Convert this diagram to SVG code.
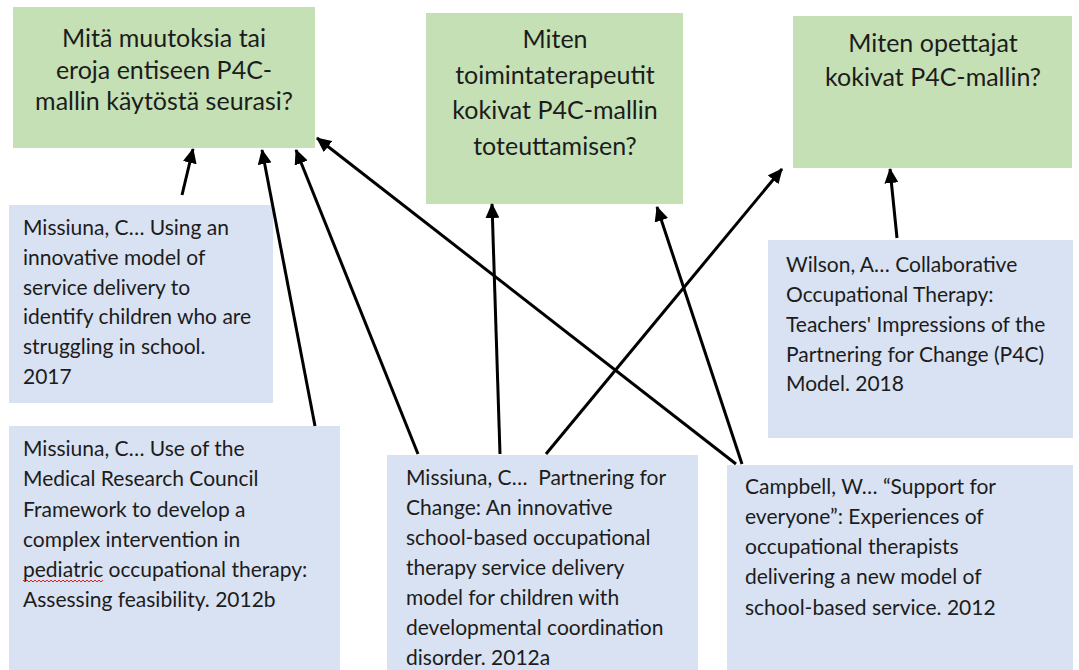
<svg xmlns="http://www.w3.org/2000/svg" width="1079" height="670" viewBox="0 0 1079 670">
  <defs>
    <style>
      .q { fill: #c5e0b4; }
      .src { fill: #d9e2f2; }
      .qt { font-family: Lato, "Open Sans", sans-serif; font-size: 25px; fill: #1c1c1c; text-anchor: middle; }
      .st { font-family: Lato, "Open Sans", sans-serif; font-size: 21px; fill: #1c1c1c; white-space: pre; }
      .arrow { stroke: #000; stroke-width: 3; fill: none; marker-end: url(#head); }
    </style>
    <marker id="head" markerUnits="userSpaceOnUse" markerWidth="16" markerHeight="14" refX="14" refY="7" orient="auto">
      <path d="M0,0 L15,7 L0,14 Z" fill="#000"/>
    </marker>
  </defs>

  <rect width="1079" height="670" fill="#fff"/>

  <!-- question boxes -->
  <g id="q-muutokset">
    <rect class="q" x="13" y="7" width="302" height="141"/>
    <text class="qt" x="164" y="47">Mitä muutoksia tai</text>
    <text class="qt" x="164" y="79">eroja entiseen P4C-</text>
    <text class="qt" x="164" y="110">mallin käytöstä seurasi?</text>
  </g>
  <g id="q-toimintaterapeutit">
    <rect class="q" x="426" y="13" width="257" height="191"/>
    <text class="qt" x="555" y="48">Miten</text>
    <text class="qt" x="555" y="84">toimintaterapeutit</text>
    <text class="qt" x="555" y="119">kokivat P4C-mallin</text>
    <text class="qt" x="555" y="155">toteuttamisen?</text>
  </g>
  <g id="q-opettajat">
    <rect class="q" x="793" y="16" width="279" height="152"/>
    <text class="qt" x="933" y="52">Miten opettajat</text>
    <text class="qt" x="933" y="86">kokivat P4C-mallin?</text>
  </g>

  <!-- source boxes -->
  <g id="s-missiuna-2017">
    <rect class="src" x="9" y="205" width="264" height="198"/>
    <text class="st" x="23" y="235">Missiuna, C… Using an</text>
    <text class="st" x="23" y="265">innovative model of</text>
    <text class="st" x="23" y="295">service delivery to</text>
    <text class="st" x="23" y="324">identify children who are</text>
    <text class="st" x="23" y="354">struggling in school.</text>
    <text class="st" x="23" y="384">2017</text>
  </g>
  <g id="s-missiuna-2012b">
    <rect class="src" x="9" y="426" width="331" height="250"/>
    <text class="st" x="23" y="456">Missiuna, C… Use of the</text>
    <text class="st" x="23" y="486">Medical Research Council</text>
    <text class="st" x="23" y="517">Framework to develop a</text>
    <text class="st" x="23" y="547">complex intervention in</text>
    <text class="st" x="23" y="577">pediatric occupational therapy:</text>
    <text class="st" x="23" y="607">Assessing feasibility. 2012b</text>
    <!-- spell-check squiggle under "pediatric" -->
    <path d="M23,580 l2,2 l2,-2 l2,2 l2,-2 l2,2 l2,-2 l2,2 l2,-2 l2,2 l2,-2 l2,2 l2,-2 l2,2 l2,-2 l2,2 l2,-2 l2,2 l2,-2 l2,2 l2,-2 l2,2 l2,-2 l2,2 l2,-2 l2,2 l2,-2 l2,2 l2,-2 l2,2 l2,-2 l2,2 l2,-2 l2,2 l2,-2 l2,2 l2,-2 l2,2 l2,-2 l2,2 l2,-2" fill="none" stroke="#e02020" stroke-width="1"/>
  </g>
  <g id="s-missiuna-2012a">
    <rect class="src" x="387" y="455" width="311" height="220"/>
    <text class="st" x="406" y="485" xml:space="preserve">Missiuna, C…  Partnering for</text>
    <text class="st" x="406" y="515">Change: An innovative</text>
    <text class="st" x="406" y="545">school-based occupational</text>
    <text class="st" x="406" y="575">therapy service delivery</text>
    <text class="st" x="406" y="605">model for children with</text>
    <text class="st" x="406" y="635">developmental coordination</text>
    <text class="st" x="406" y="665">disorder. 2012a</text>
  </g>
  <g id="s-campbell-2012">
    <rect class="src" x="727" y="465" width="346" height="210"/>
    <text class="st" x="745" y="494">Campbell, W… “Support for</text>
    <text class="st" x="745" y="524">everyone”: Experiences of</text>
    <text class="st" x="745" y="554">occupational therapists</text>
    <text class="st" x="745" y="584">delivering a new model of</text>
    <text class="st" x="745" y="615">school-based service. 2012</text>
  </g>
  <g id="s-wilson-2018">
    <rect class="src" x="768" y="240" width="305" height="198"/>
    <text class="st" x="786" y="272">Wilson, A… Collaborative</text>
    <text class="st" x="786" y="302">Occupational Therapy:</text>
    <text class="st" x="786" y="332">Teachers' Impressions of the</text>
    <text class="st" x="786" y="362">Partnering for Change (P4C)</text>
    <text class="st" x="786" y="391">Model. 2018</text>
  </g>

  <!-- connectors -->
  <g id="connectors">
    <line class="arrow" x1="182" y1="195" x2="193" y2="149"/>
    <line class="arrow" x1="315" y1="426" x2="262" y2="150"/>
    <line class="arrow" x1="418" y1="454" x2="296" y2="150"/>
    <line class="arrow" x1="736" y1="464" x2="317" y2="138"/>
    <line class="arrow" x1="500" y1="454" x2="492" y2="204"/>
    <line class="arrow" x1="546" y1="454" x2="782" y2="169"/>
    <line class="arrow" x1="742" y1="464" x2="657" y2="207"/>
    <line class="arrow" x1="897" y1="238" x2="890" y2="169"/>
  </g>
</svg>
